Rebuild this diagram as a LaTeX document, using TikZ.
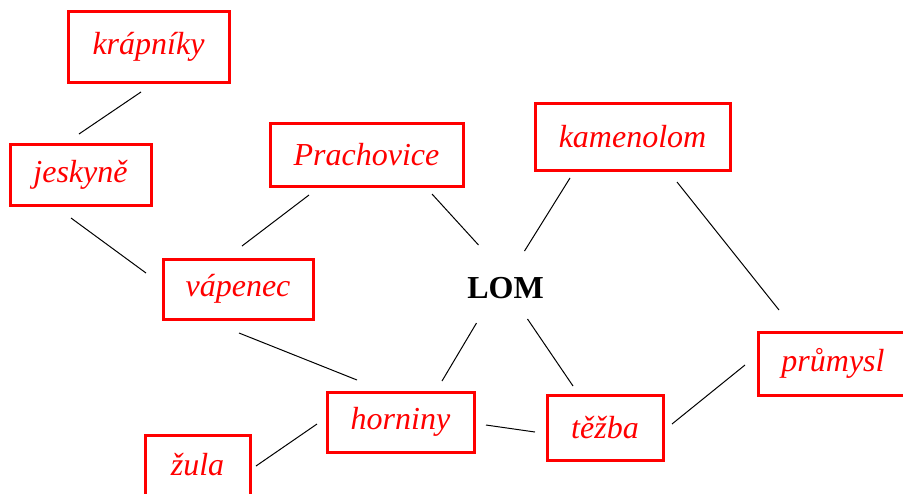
\documentclass[tikz,border=0pt]{standalone}
\usepackage{fontspec}
\setmainfont{Liberation Serif}
\begin{document}
\begin{tikzpicture}[x=0.5pt,y=-0.5pt,
  box/.style={draw=red,line width=1.5pt,text=red,font=\fontsize{16}{18}\selectfont\itshape,inner sep=0pt,minimum width=#1},
  link/.style={draw=black,line width=0.5pt}]
\useasboundingbox (0,0) rectangle (903,493);
\clip (0,0) rectangle (903,493);
\node[box=80.5pt,minimum height=35.5pt] (kr) at (148.5,46.5) {krápníky};
\node[box=70.5pt,minimum height=30.5pt] (je) at (80.5,174.5) {jeskyně};
\node[box=96.5pt,minimum height=31.5pt] (pr) at (366.5,154.5) {Prachovice};
\node[box=97.5pt,minimum height=33.5pt] (ka) at (632.5,136.5) {kamenolom};
\node[box=75pt,minimum height=30pt] (va) at (238,289) {vápenec};
\node[box=75pt,minimum height=31.5pt] (pu) at (833,363.5) {průmysl};
\node[box=73.5pt,minimum height=30pt] (ho) at (400.5,422) {horniny};
\node[box=58pt,minimum height=32.5pt] (te) at (605,427.5) {těžba};
\node[box=52.5pt,minimum height=30pt] (zu) at (197.5,465) {žula};
\node[font=\fontsize{16}{18}\selectfont\bfseries] (lom) at (505.5,288) {LOM};
\draw[link] ([shift={(-7.5,45.5)}]kr.center) -- ([shift={(-1.5,-40.5)}]je.center);
\draw[link] ([shift={(-9.5,43.5)}]je.center) -- ([shift={(-92,-16)}]va.center);
\draw[link] ([shift={(-57.5,40.5)}]pr.center) -- ([shift={(4,-43)}]va.center);
\draw[link] ([shift={(65.5,39.5)}]pr.center) -- ([shift={(-27,-43)}]lom.center);
\draw[link] ([shift={(-62.5,41.5)}]ka.center) -- ([shift={(19,-37)}]lom.center);
\draw[link] ([shift={(44.5,45.5)}]ka.center) -- ([shift={(-54,-53.5)}]pu.center);
\draw[link] ([shift={(-29,35)}]lom.center) -- ([shift={(41.5,-41)}]ho.center);
\draw[link] ([shift={(22,31)}]lom.center) -- ([shift={(-32,-41.5)}]te.center);
\draw[link] ([shift={(1,44)}]va.center) -- ([shift={(-43.5,-42)}]ho.center);
\draw[link] ([shift={(85.5,3)}]ho.center) -- ([shift={(-70,4.5)}]te.center);
\draw[link] ([shift={(67,-3.5)}]te.center) -- ([shift={(-88,1.5)}]pu.center);
\draw[link] ([shift={(58.5,1)}]zu.center) -- ([shift={(-83.5,2)}]ho.center);
\end{tikzpicture}
\end{document}
